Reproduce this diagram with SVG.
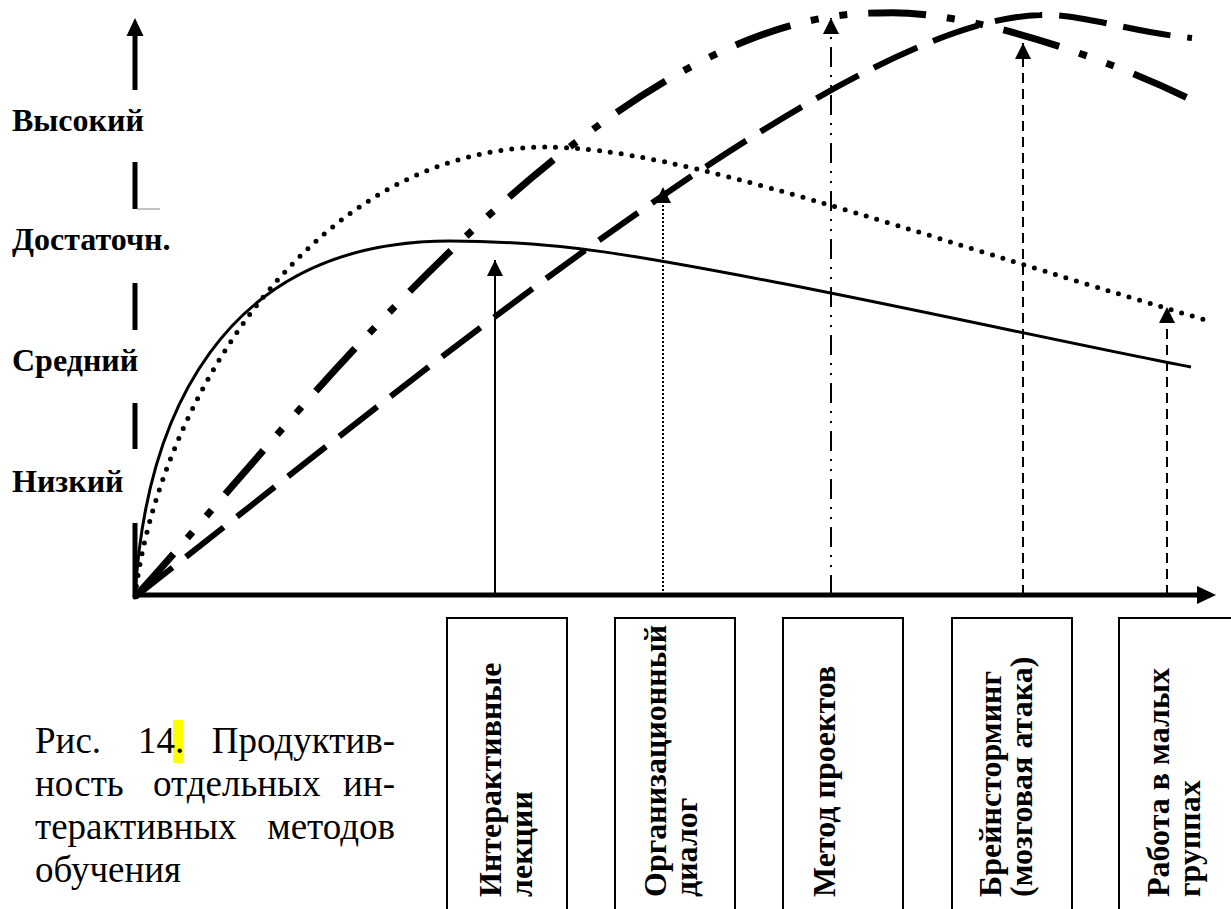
<svg xmlns="http://www.w3.org/2000/svg" width="1231" height="909" viewBox="0 0 1231 909">
<style>
.lbl{font-family:"Liberation Serif","Times New Roman",serif;font-weight:bold;font-size:32px;fill:#000}
.cap{font-family:"Liberation Serif","Times New Roman",serif;font-size:37px;fill:#000}
.box{fill:none;stroke:#000;stroke-width:2}
.conn{fill:none;stroke:#000;stroke-width:2}
.crv{fill:none;stroke:#000}
</style>
<defs>
<marker id="ah" markerUnits="userSpaceOnUse" viewBox="0 0 16 16" refX="16" refY="8" markerWidth="16" markerHeight="16" orient="auto">
<path d="M0,0 L16,8 L0,16 Z" fill="#000"/>
</marker>
</defs>
<rect width="1231" height="909" fill="#fff"/>

<g id="axes">
<g id="y-axis" stroke="#000" stroke-width="5">
<line x1="135" y1="36" x2="135" y2="90"/>
<line x1="135" y1="162" x2="135" y2="209"/>
<line x1="135" y1="283" x2="135" y2="330"/>
<line x1="135" y1="403" x2="135" y2="449"/>
<line x1="135" y1="523" x2="135" y2="597"/>
</g>
<line x1="137" y1="209" x2="160" y2="209" stroke="#888" stroke-width="1"/>
<polygon points="126.5,36 135,18 143.5,36" fill="#000"/>
<line x1="133" y1="595" x2="1198" y2="595" stroke="#000" stroke-width="5"/>
<polygon points="1197,586 1216,595 1197,604" fill="#000"/>
</g>

<g id="y-labels">
<text class="lbl" x="12" y="131">Высокий</text>
<text class="lbl" x="12" y="250">Достаточн.</text>
<text class="lbl" x="12" y="371">Средний</text>
<text class="lbl" x="12" y="492">Низкий</text>
</g>

<g id="curves">
<path id="curve-solid" class="crv" stroke-width="3" d="M135,597 C145,420 220,241 450,241 C560,241 640,256 780,283 C920,310 1100,350 1191,367"/>
<path id="curve-dotted" class="crv" stroke-width="5" stroke-linecap="round" stroke-dasharray="0 11" d="M135,597 C155,420 300,150 545,147 C680,147 900,230 1209,321"/>
<path id="curve-dashdot" class="crv" stroke-width="7" stroke-dasharray="58 21 8 21 8 21" d="M135,597 C280,440 600,10 880,13 C960,8 1100,55 1192,100"/>
<path id="curve-dash" class="crv" stroke-width="6" stroke-dasharray="48 17" d="M135,597 C450,350 850,20 1040,15 C1080,13 1130,32 1192,38"/>
</g>

<g id="connectors">
<line class="conn" x1="495" y1="595" x2="495" y2="260" marker-end="url(#ah)"/>
<line class="conn" x1="663" y1="595" x2="663" y2="187" stroke-dasharray="2 2" marker-end="url(#ah)"/>
<line class="conn" x1="831" y1="595" x2="831" y2="18" stroke-dasharray="20 8 2 8 2 8" marker-end="url(#ah)"/>
<line class="conn" x1="1023" y1="595" x2="1023" y2="43" stroke-width="2.5" stroke-dasharray="10 6" marker-end="url(#ah)"/>
<line class="conn" x1="1167" y1="595" x2="1167" y2="307" stroke-width="2.5" stroke-dasharray="10 6" marker-end="url(#ah)"/>
</g>

<g id="node-lectures">
<rect class="box" x="447" y="618" width="120" height="320"/>
<text class="lbl" transform="translate(501,897) rotate(-90)">Интерактивные</text>
<text class="lbl" transform="translate(532,897) rotate(-90)">лекции</text>
</g>
<g id="node-dialog">
<rect class="box" x="615" y="618" width="120" height="320"/>
<text class="lbl" transform="translate(666,897) rotate(-90)">Организационный</text>
<text class="lbl" transform="translate(697,897) rotate(-90)">диалог</text>
</g>
<g id="node-projects">
<rect class="box" x="783" y="618" width="120" height="320"/>
<text class="lbl" transform="translate(835,897) rotate(-90)">Метод проектов</text>
</g>
<g id="node-brainstorm">
<rect class="box" x="952" y="618" width="120" height="320"/>
<text class="lbl" transform="translate(1001,897) rotate(-90)">Брейнсторминг</text>
<text class="lbl" transform="translate(1032,897) rotate(-90)">(мозговая атака)</text>
</g>
<g id="node-groups">
<rect class="box" x="1119" y="618" width="120" height="320"/>
<text class="lbl" transform="translate(1169,897) rotate(-90)">Работа в малых</text>
<text class="lbl" transform="translate(1200,897) rotate(-90)">группах</text>
</g>

<g id="caption">
<rect x="173" y="720" width="10" height="43" fill="#ffff00"/>
<text class="cap" x="35" y="753">Рис.</text>
<text class="cap" x="138" y="753">14.</text>
<text class="cap" x="395" y="753" text-anchor="end">Продуктив-</text>
<text class="cap" x="35" y="796">ность</text>
<text class="cap" x="153" y="796">отдельных</text>
<text class="cap" x="395" y="796" text-anchor="end">ин-</text>
<text class="cap" x="35" y="839">терактивных</text>
<text class="cap" x="395" y="839" text-anchor="end">методов</text>
<text class="cap" x="35" y="882">обучения</text>
</g>
</svg>
